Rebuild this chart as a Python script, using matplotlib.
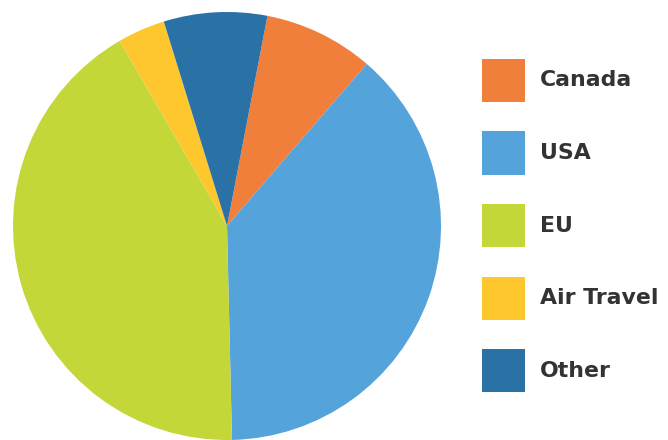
import matplotlib.pyplot as plt
from matplotlib.patches import Rectangle

labels = ["Canada", "USA", "EU", "Air Travel", "Other"]
shares = [8.3, 38.3, 42.0, 3.6, 7.8]
colors = ["#F07F3C", "#55A3DB", "#C3D838", "#FEC72E", "#2A71A6"]

W, H = 668, 440
fig = plt.figure(figsize=(W / 100, H / 100), dpi=100)

# pie axes placed in pixel terms: center (227, 226), radius 214
cx, cy, r = 227, 226, 214
ax = fig.add_axes([(cx - r) / W, (H - cy - r) / H, 2 * r / W, 2 * r / H])
ax.pie(shares, colors=colors, startangle=79.1, counterclock=False,
       radius=1, wedgeprops=dict(linewidth=0))
ax.set_xlim(-1, 1)
ax.set_ylim(-1, 1)
ax.set_aspect("equal")
ax.axis("off")

# legend: colored squares with bold labels
x0, y0, size, step = 482, 59, 43, 72.5
for i, (lab, col) in enumerate(zip(labels, colors)):
    top = y0 + i * step
    fig.add_artist(Rectangle((x0 / W, (H - top - size) / H), size / W, size / H,
                             transform=fig.transFigure, color=col, lw=0))
    fig.text(540 / W, (H - top - size / 2) / H, lab, fontsize=15.8,
             fontweight="bold", color="#333333", va="center", ha="left")

fig.savefig("out.png", dpi=100)
